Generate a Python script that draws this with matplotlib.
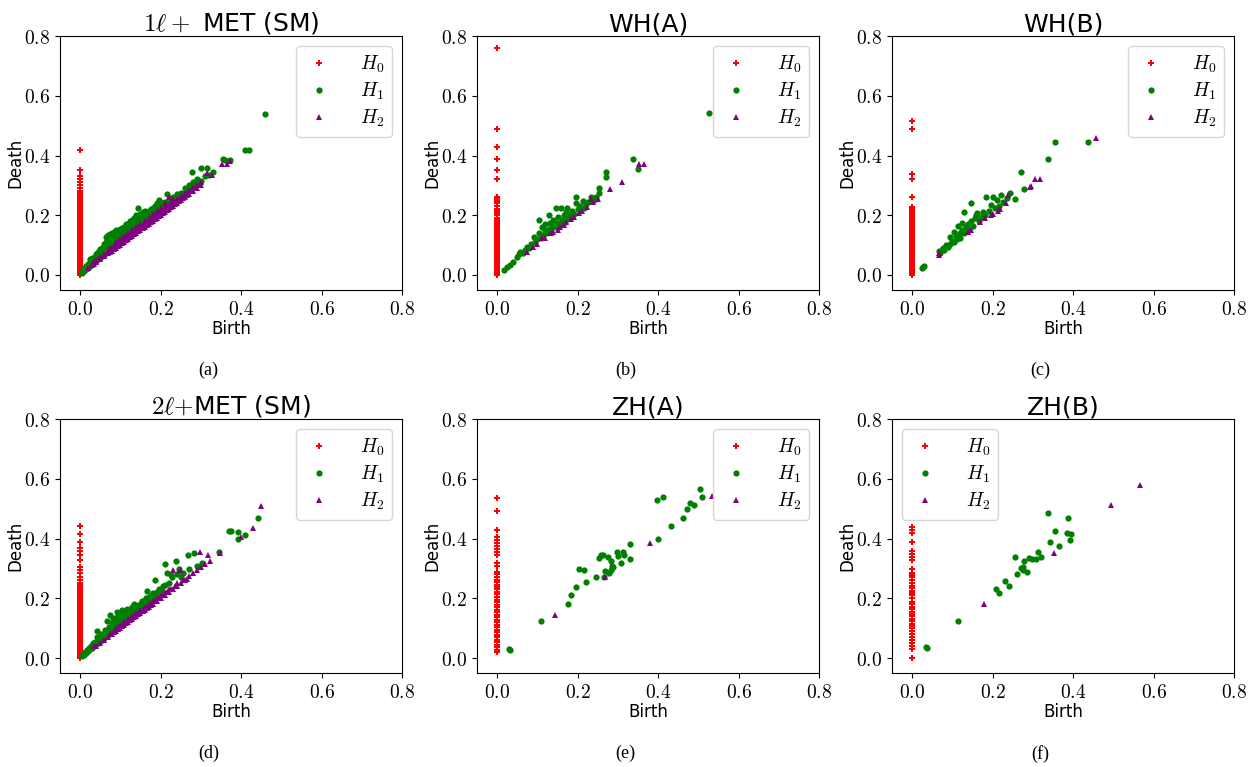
import matplotlib
matplotlib.use("Agg")
import matplotlib.pyplot as plt

plt.rcParams['mathtext.fontset'] = 'cm'
plt.rcParams['font.family'] = ['DejaVu Sans']

titles = [r'$1\ell+$ MET (SM)', 'WH(A)', 'WH(B)', r'$2\ell{+}$MET (SM)', 'ZH(A)', 'ZH(B)']
captions = ['(a)', '(b)', '(c)', '(d)', '(e)', '(f)']
tick_vals = [0.0, 0.2, 0.4, 0.6, 0.8]
tick_labels = [r'$0.0$', r'$0.2$', r'$0.4$', r'$0.6$', r'$0.8$']
legend_locs = ['upper right'] * 5 + ['upper left']

# H0 deaths (all born at 0)
h0_a = [0.0, 0.004, 0.009, 0.014, 0.02, 0.026, 0.031, 0.037, 0.043, 0.05, 0.056, 0.062, 0.068, 0.075,
        0.081, 0.088, 0.094, 0.1, 0.107, 0.113, 0.12, 0.126, 0.133, 0.139, 0.146, 0.152, 0.159, 0.165,
        0.172, 0.178, 0.185, 0.191, 0.198, 0.204, 0.211, 0.217, 0.224, 0.23, 0.237, 0.243, 0.25, 0.257,
        0.263, 0.27, 0.276, 0.282, 0.29, 0.3, 0.31, 0.32, 0.33, 0.35, 0.42]
h0_b = [0.0, 0.005, 0.011, 0.017, 0.023, 0.029, 0.035, 0.041, 0.047, 0.053, 0.059, 0.065, 0.071, 0.077,
        0.083, 0.089, 0.095, 0.101, 0.107, 0.113, 0.119, 0.125, 0.131, 0.137, 0.143, 0.149, 0.155, 0.161,
        0.167, 0.173, 0.179, 0.185, 0.19, 0.2, 0.208, 0.215, 0.222, 0.23, 0.24, 0.248, 0.255, 0.262,
        0.32, 0.35, 0.39, 0.43, 0.49, 0.76]
h0_c = [0.0, 0.005, 0.011, 0.017, 0.023, 0.029, 0.035, 0.041, 0.047, 0.053, 0.059, 0.065, 0.071, 0.077,
        0.083, 0.089, 0.095, 0.101, 0.107, 0.113, 0.119, 0.125, 0.131, 0.137, 0.143, 0.149, 0.155, 0.161,
        0.167, 0.173, 0.179, 0.185, 0.19, 0.196, 0.202, 0.208, 0.214, 0.22, 0.226, 0.262, 0.322, 0.337,
        0.49, 0.516]
h0_d = [0.0, 0.004, 0.009, 0.014, 0.02, 0.026, 0.031, 0.037, 0.043, 0.05, 0.056, 0.062, 0.068, 0.075,
        0.081, 0.088, 0.094, 0.1, 0.107, 0.113, 0.12, 0.126, 0.133, 0.139, 0.146, 0.152, 0.159, 0.165,
        0.172, 0.178, 0.185, 0.191, 0.198, 0.204, 0.211, 0.217, 0.224, 0.23, 0.237, 0.244, 0.25, 0.262,
        0.272, 0.285, 0.295, 0.305, 0.33, 0.345, 0.36, 0.37, 0.39, 0.415, 0.443]
h0_e = [0.02, 0.028, 0.036, 0.045, 0.053, 0.062, 0.07, 0.078, 0.087, 0.095, 0.104, 0.112, 0.12, 0.129,
        0.137, 0.146, 0.154, 0.162, 0.171, 0.179, 0.188, 0.196, 0.204, 0.213, 0.221, 0.23, 0.238, 0.246,
        0.255, 0.263, 0.272, 0.28, 0.288, 0.31, 0.32, 0.345, 0.355, 0.365, 0.375, 0.385, 0.395, 0.405,
        0.43, 0.493, 0.535]
h0_f = [0.0, 0.03, 0.04, 0.05, 0.062, 0.07, 0.08, 0.09, 0.1, 0.108, 0.115, 0.123, 0.131, 0.14, 0.148,
        0.156, 0.165, 0.172, 0.18, 0.188, 0.2, 0.21, 0.218, 0.226, 0.235, 0.243, 0.252, 0.26, 0.27, 0.278,
        0.286, 0.3, 0.33, 0.338, 0.35, 0.36, 0.39, 0.42, 0.43, 0.44]

# H1 (birth, death)
h1_a = [(0.005, 0.008), (0.005, 0.012), (0.01, 0.014), (0.01, 0.022), (0.015, 0.02), (0.015, 0.03),
        (0.02, 0.025), (0.02, 0.038), (0.025, 0.03), (0.025, 0.045), (0.025, 0.052), (0.03, 0.036),
        (0.03, 0.05), (0.03, 0.058), (0.035, 0.042), (0.035, 0.058), (0.04, 0.047), (0.04, 0.062),
        (0.04, 0.07), (0.045, 0.052), (0.045, 0.068), (0.045, 0.078), (0.05, 0.058), (0.05, 0.075),
        (0.05, 0.088), (0.055, 0.063), (0.055, 0.08), (0.055, 0.092), (0.06, 0.068), (0.06, 0.088),
        (0.06, 0.105), (0.065, 0.074), (0.065, 0.095), (0.065, 0.112), (0.065, 0.128), (0.07, 0.08),
        (0.07, 0.1), (0.07, 0.118), (0.07, 0.135), (0.075, 0.085), (0.075, 0.108), (0.075, 0.122),
        (0.075, 0.138), (0.08, 0.09), (0.08, 0.112), (0.08, 0.128), (0.08, 0.14), (0.085, 0.096),
        (0.085, 0.12), (0.085, 0.133), (0.085, 0.145), (0.09, 0.1), (0.09, 0.115), (0.09, 0.125),
        (0.09, 0.138), (0.09, 0.15), (0.095, 0.106), (0.095, 0.13), (0.095, 0.142), (0.095, 0.148),
        (0.1, 0.112), (0.1, 0.125), (0.1, 0.135), (0.1, 0.145), (0.1, 0.155), (0.105, 0.118),
        (0.105, 0.14), (0.105, 0.15), (0.105, 0.158), (0.11, 0.122), (0.11, 0.135), (0.11, 0.145),
        (0.11, 0.162), (0.115, 0.128), (0.115, 0.15), (0.115, 0.16), (0.115, 0.17), (0.12, 0.133),
        (0.12, 0.145), (0.12, 0.155), (0.12, 0.165), (0.12, 0.172), (0.125, 0.138), (0.125, 0.16),
        (0.125, 0.17), (0.125, 0.18), (0.13, 0.143), (0.13, 0.155), (0.13, 0.165), (0.13, 0.185),
        (0.135, 0.148), (0.135, 0.17), (0.135, 0.18), (0.135, 0.19), (0.14, 0.153), (0.14, 0.175),
        (0.14, 0.185), (0.14, 0.2), (0.145, 0.158), (0.145, 0.18), (0.145, 0.19), (0.145, 0.223),
        (0.15, 0.164), (0.15, 0.185), (0.15, 0.195), (0.15, 0.205), (0.155, 0.17), (0.155, 0.19),
        (0.155, 0.2), (0.155, 0.21), (0.16, 0.175), (0.16, 0.195), (0.16, 0.205), (0.16, 0.215),
        (0.165, 0.18), (0.165, 0.2), (0.165, 0.212), (0.17, 0.186), (0.17, 0.205), (0.17, 0.215),
        (0.175, 0.19), (0.175, 0.21), (0.175, 0.22), (0.18, 0.195), (0.18, 0.215), (0.18, 0.225),
        (0.185, 0.2), (0.185, 0.22), (0.185, 0.23), (0.19, 0.205), (0.19, 0.225), (0.19, 0.24),
        (0.195, 0.212), (0.195, 0.232), (0.195, 0.25), (0.2, 0.216), (0.2, 0.232), (0.2, 0.242),
        (0.205, 0.222), (0.205, 0.24), (0.21, 0.226), (0.21, 0.245), (0.215, 0.27), (0.215, 0.235),
        (0.22, 0.236), (0.22, 0.25), (0.225, 0.242), (0.225, 0.258), (0.23, 0.245), (0.23, 0.26),
        (0.235, 0.25), (0.24, 0.255), (0.24, 0.27), (0.245, 0.262), (0.25, 0.265), (0.25, 0.275),
        (0.255, 0.27), (0.26, 0.275), (0.26, 0.29), (0.265, 0.282), (0.27, 0.285), (0.27, 0.3),
        (0.277, 0.345), (0.28, 0.295), (0.28, 0.31), (0.29, 0.305), (0.29, 0.32), (0.3, 0.315),
        (0.3, 0.357), (0.31, 0.33), (0.315, 0.357), (0.32, 0.335), (0.33, 0.345), (0.356, 0.39),
        (0.36, 0.385), (0.373, 0.385), (0.41, 0.42), (0.42, 0.42), (0.46, 0.54)]
h1_b = [(0.017, 0.017), (0.025, 0.028), (0.033, 0.033), (0.04, 0.045), (0.05, 0.06), (0.055, 0.07),
        (0.058, 0.078), (0.065, 0.075), (0.07, 0.085), (0.075, 0.095), (0.08, 0.09), (0.085, 0.105),
        (0.091, 0.128), (0.095, 0.11), (0.1, 0.12), (0.104, 0.184), (0.105, 0.14), (0.11, 0.125),
        (0.112, 0.16), (0.115, 0.135), (0.118, 0.15), (0.12, 0.17), (0.125, 0.14), (0.129, 0.2),
        (0.13, 0.155), (0.132, 0.175), (0.135, 0.148), (0.138, 0.165), (0.14, 0.185), (0.145, 0.223),
        (0.145, 0.16), (0.148, 0.175), (0.15, 0.195), (0.155, 0.17), (0.158, 0.223), (0.16, 0.185),
        (0.165, 0.2), (0.168, 0.178), (0.17, 0.21), (0.174, 0.223), (0.175, 0.19), (0.18, 0.2),
        (0.185, 0.215), (0.19, 0.205), (0.195, 0.26), (0.195, 0.24), (0.2, 0.22), (0.205, 0.23),
        (0.213, 0.247), (0.215, 0.225), (0.22, 0.238), (0.225, 0.245), (0.232, 0.262), (0.24, 0.25),
        (0.245, 0.26), (0.253, 0.292), (0.253, 0.275), (0.27, 0.346), (0.27, 0.329), (0.337, 0.387),
        (0.35, 0.355), (0.527, 0.541)]
h1_c = [(0.025, 0.022), (0.028, 0.026), (0.03, 0.031), (0.066, 0.081), (0.07, 0.075), (0.076, 0.089),
        (0.08, 0.085), (0.085, 0.1), (0.089, 0.095), (0.093, 0.126), (0.095, 0.105), (0.1, 0.115),
        (0.105, 0.145), (0.105, 0.11), (0.11, 0.13), (0.112, 0.12), (0.114, 0.165), (0.118, 0.14),
        (0.12, 0.125), (0.125, 0.15), (0.125, 0.175), (0.13, 0.212), (0.13, 0.14), (0.135, 0.16),
        (0.138, 0.17), (0.14, 0.15), (0.145, 0.18), (0.147, 0.242), (0.15, 0.165), (0.155, 0.19),
        (0.158, 0.2), (0.161, 0.206), (0.165, 0.18), (0.17, 0.195), (0.175, 0.21), (0.18, 0.2),
        (0.184, 0.262), (0.19, 0.215), (0.195, 0.235), (0.2, 0.262), (0.205, 0.225), (0.21, 0.25),
        (0.215, 0.232), (0.221, 0.268), (0.225, 0.245), (0.235, 0.258), (0.244, 0.273), (0.255, 0.254),
        (0.27, 0.346), (0.277, 0.288), (0.338, 0.387), (0.354, 0.446), (0.437, 0.446)]
h1_d = [(0.005, 0.008), (0.008, 0.014), (0.01, 0.012), (0.013, 0.02), (0.015, 0.018), (0.018, 0.028),
        (0.02, 0.024), (0.023, 0.035), (0.025, 0.03), (0.028, 0.042), (0.03, 0.035), (0.033, 0.05),
        (0.035, 0.04), (0.038, 0.055), (0.04, 0.046), (0.041, 0.07), (0.043, 0.09), (0.045, 0.052),
        (0.048, 0.065), (0.05, 0.056), (0.052, 0.08), (0.055, 0.062), (0.058, 0.075), (0.06, 0.068),
        (0.062, 0.095), (0.065, 0.073), (0.066, 0.125), (0.068, 0.085), (0.07, 0.078), (0.072, 0.105),
        (0.075, 0.084), (0.075, 0.145), (0.078, 0.095), (0.078, 0.118), (0.08, 0.088), (0.082, 0.115),
        (0.082, 0.13), (0.085, 0.094), (0.085, 0.135), (0.088, 0.105), (0.088, 0.122), (0.09, 0.1),
        (0.091, 0.155), (0.093, 0.125), (0.093, 0.14), (0.095, 0.105), (0.098, 0.14), (0.098, 0.118),
        (0.1, 0.11), (0.1, 0.125), (0.1, 0.15), (0.103, 0.16), (0.105, 0.116), (0.108, 0.135),
        (0.108, 0.148), (0.11, 0.122), (0.112, 0.15), (0.112, 0.138), (0.115, 0.128), (0.116, 0.165),
        (0.118, 0.142), (0.12, 0.133), (0.12, 0.158), (0.123, 0.155), (0.125, 0.138), (0.125, 0.148),
        (0.128, 0.165), (0.13, 0.143), (0.13, 0.172), (0.133, 0.18), (0.135, 0.15), (0.138, 0.165),
        (0.14, 0.155), (0.14, 0.175), (0.143, 0.175), (0.145, 0.16), (0.148, 0.18), (0.15, 0.165),
        (0.15, 0.175), (0.153, 0.19), (0.155, 0.17), (0.158, 0.185), (0.16, 0.176), (0.16, 0.195),
        (0.163, 0.2), (0.165, 0.182), (0.166, 0.225), (0.168, 0.195), (0.17, 0.19), (0.172, 0.205),
        (0.175, 0.193), (0.178, 0.21), (0.18, 0.2), (0.182, 0.218), (0.186, 0.262), (0.188, 0.21),
        (0.19, 0.22), (0.195, 0.23), (0.2, 0.228), (0.205, 0.24), (0.211, 0.316), (0.212, 0.245),
        (0.215, 0.285), (0.22, 0.25), (0.225, 0.278), (0.228, 0.27), (0.238, 0.324), (0.24, 0.28),
        (0.245, 0.3), (0.25, 0.27), (0.255, 0.285), (0.267, 0.346), (0.27, 0.3), (0.283, 0.352),
        (0.29, 0.31), (0.302, 0.318), (0.344, 0.354), (0.371, 0.427), (0.375, 0.424), (0.393, 0.421),
        (0.393, 0.398), (0.409, 0.413), (0.443, 0.469)]
h1_e = [(0.029, 0.03), (0.031, 0.028), (0.108, 0.125), (0.177, 0.182), (0.184, 0.212), (0.196, 0.238),
        (0.204, 0.3), (0.217, 0.295), (0.221, 0.256), (0.245, 0.273), (0.253, 0.335), (0.257, 0.344),
        (0.262, 0.346), (0.266, 0.273), (0.268, 0.292), (0.276, 0.338), (0.279, 0.285), (0.282, 0.324),
        (0.284, 0.296), (0.286, 0.307), (0.289, 0.305), (0.297, 0.354), (0.3, 0.343), (0.308, 0.32),
        (0.313, 0.355), (0.314, 0.346), (0.329, 0.382), (0.331, 0.333), (0.397, 0.528), (0.4, 0.4),
        (0.412, 0.54), (0.432, 0.443), (0.461, 0.469), (0.471, 0.499), (0.48, 0.518), (0.488, 0.514),
        (0.503, 0.566), (0.508, 0.538)]
h1_f = [(0.035, 0.036), (0.037, 0.034), (0.115, 0.123), (0.209, 0.231), (0.216, 0.217), (0.231, 0.259),
        (0.24, 0.243), (0.256, 0.339), (0.26, 0.281), (0.271, 0.301), (0.275, 0.296), (0.275, 0.304),
        (0.278, 0.326), (0.285, 0.288), (0.29, 0.334), (0.298, 0.331), (0.307, 0.331), (0.313, 0.355),
        (0.321, 0.34), (0.337, 0.485), (0.342, 0.388), (0.354, 0.426), (0.366, 0.374), (0.386, 0.42),
        (0.387, 0.468), (0.391, 0.396), (0.395, 0.414)]

# H2 (birth, death)
h2_a = [(0.02, 0.022), (0.03, 0.032), (0.033, 0.04), (0.035, 0.037), (0.04, 0.042), (0.04, 0.05),
        (0.05, 0.052), (0.05, 0.06), (0.06, 0.062), (0.06, 0.07), (0.07, 0.072), (0.07, 0.08),
        (0.075, 0.077), (0.075, 0.09), (0.08, 0.082), (0.08, 0.092), (0.085, 0.087), (0.085, 0.098),
        (0.09, 0.092), (0.09, 0.102), (0.09, 0.11), (0.095, 0.097), (0.095, 0.108), (0.1, 0.102),
        (0.1, 0.112), (0.1, 0.12), (0.105, 0.107), (0.105, 0.118), (0.11, 0.112), (0.11, 0.122),
        (0.11, 0.13), (0.115, 0.117), (0.115, 0.127), (0.12, 0.122), (0.12, 0.132), (0.12, 0.14),
        (0.125, 0.127), (0.125, 0.137), (0.13, 0.132), (0.13, 0.142), (0.13, 0.15), (0.135, 0.137),
        (0.135, 0.147), (0.14, 0.142), (0.14, 0.152), (0.14, 0.16), (0.145, 0.147), (0.145, 0.157),
        (0.15, 0.152), (0.15, 0.162), (0.15, 0.172), (0.155, 0.157), (0.155, 0.167), (0.16, 0.162),
        (0.16, 0.172), (0.16, 0.182), (0.165, 0.167), (0.165, 0.177), (0.17, 0.172), (0.17, 0.182),
        (0.17, 0.192), (0.175, 0.177), (0.175, 0.188), (0.18, 0.182), (0.18, 0.192), (0.18, 0.205),
        (0.185, 0.187), (0.185, 0.198), (0.19, 0.192), (0.19, 0.202), (0.19, 0.215), (0.195, 0.197),
        (0.195, 0.208), (0.2, 0.202), (0.2, 0.212), (0.2, 0.225), (0.205, 0.207), (0.205, 0.218),
        (0.21, 0.212), (0.21, 0.225), (0.21, 0.24), (0.215, 0.217), (0.215, 0.23), (0.22, 0.222),
        (0.22, 0.235), (0.22, 0.26), (0.225, 0.227), (0.225, 0.24), (0.23, 0.232), (0.23, 0.245),
        (0.23, 0.255), (0.235, 0.237), (0.24, 0.242), (0.24, 0.255), (0.245, 0.247), (0.25, 0.252),
        (0.25, 0.265), (0.255, 0.258), (0.26, 0.262), (0.26, 0.275), (0.265, 0.268), (0.27, 0.272),
        (0.27, 0.285), (0.28, 0.282), (0.28, 0.295), (0.29, 0.292), (0.29, 0.3), (0.3, 0.302),
        (0.3, 0.31), (0.315, 0.34), (0.327, 0.334), (0.352, 0.373), (0.365, 0.372), (0.373, 0.38)]
h2_b = [(0.075, 0.078), (0.09, 0.095), (0.1, 0.105), (0.112, 0.123), (0.12, 0.125), (0.133, 0.139),
        (0.14, 0.145), (0.15, 0.15), (0.155, 0.16), (0.166, 0.168), (0.172, 0.178), (0.183, 0.186),
        (0.19, 0.195), (0.203, 0.206), (0.21, 0.215), (0.224, 0.229), (0.232, 0.253), (0.238, 0.245),
        (0.25, 0.255), (0.28, 0.288), (0.31, 0.311), (0.353, 0.37), (0.364, 0.37)]
h2_c = [(0.066, 0.067), (0.066, 0.072), (0.139, 0.145), (0.147, 0.15), (0.168, 0.178), (0.18, 0.19),
        (0.196, 0.2), (0.2, 0.205), (0.213, 0.215), (0.218, 0.22), (0.234, 0.24), (0.238, 0.268),
        (0.294, 0.295), (0.296, 0.298), (0.304, 0.32), (0.318, 0.32), (0.456, 0.457)]
h2_d = [(0.035, 0.04), (0.04, 0.042), (0.05, 0.052), (0.06, 0.062), (0.07, 0.072), (0.075, 0.08),
        (0.08, 0.082), (0.085, 0.088), (0.09, 0.092), (0.09, 0.1), (0.095, 0.098), (0.1, 0.102),
        (0.1, 0.11), (0.105, 0.108), (0.11, 0.112), (0.11, 0.12), (0.115, 0.118), (0.12, 0.122),
        (0.12, 0.13), (0.125, 0.128), (0.13, 0.132), (0.13, 0.14), (0.135, 0.138), (0.14, 0.142),
        (0.14, 0.15), (0.145, 0.148), (0.15, 0.152), (0.15, 0.16), (0.155, 0.158), (0.16, 0.162),
        (0.16, 0.17), (0.165, 0.168), (0.17, 0.172), (0.17, 0.18), (0.175, 0.178), (0.18, 0.182),
        (0.18, 0.19), (0.185, 0.19), (0.19, 0.192), (0.19, 0.2), (0.195, 0.2), (0.2, 0.202),
        (0.2, 0.21), (0.205, 0.21), (0.21, 0.212), (0.21, 0.22), (0.215, 0.22), (0.22, 0.222),
        (0.22, 0.232), (0.225, 0.23), (0.23, 0.232), (0.232, 0.296), (0.235, 0.24), (0.24, 0.242),
        (0.24, 0.25), (0.248, 0.296), (0.25, 0.252), (0.255, 0.26), (0.26, 0.262), (0.265, 0.265),
        (0.27, 0.275), (0.28, 0.285), (0.29, 0.295), (0.298, 0.354), (0.3, 0.305), (0.31, 0.315),
        (0.318, 0.344), (0.322, 0.324), (0.348, 0.352), (0.401, 0.407), (0.43, 0.435), (0.45, 0.508)]
h2_e = [(0.143, 0.145), (0.267, 0.271), (0.38, 0.386), (0.533, 0.543)]
h2_f = [(0.178, 0.18), (0.353, 0.353), (0.493, 0.511), (0.567, 0.579)]

h0_sets = [h0_a, h0_b, h0_c, h0_d, h0_e, h0_f]
h1_sets = [h1_a, h1_b, h1_c, h1_d, h1_e, h1_f]
h2_sets = [h2_a, h2_b, h2_c, h2_d, h2_e, h2_f]

fig = plt.figure(figsize=(12.58, 7.67), dpi=100)

lefts = [0.0477, 0.3792, 0.7091]
bottoms = [0.622, 0.1225]
w, h = 0.2719, 0.331

for i in range(6):
    r, c = divmod(i, 3)
    ax = fig.add_axes([lefts[c], bottoms[r], w, h])
    ax.plot([0.0] * len(h0_sets[i]), h0_sets[i], 'P', color='red', ms=3.8, mew=0, label=r'$H_0$')
    b1, d1 = zip(*h1_sets[i])
    ax.plot(b1, d1, 'o', color='green', ms=4.5, mew=0, label=r'$H_1$')
    b2, d2 = zip(*h2_sets[i])
    ax.plot(b2, d2, '^', color='purple', ms=4.5, mew=0, label=r'$H_2$')

    ax.set_xlim(-0.05, 0.8)
    ax.set_ylim(-0.05, 0.8)
    ax.set_xticks(tick_vals)
    ax.set_yticks(tick_vals)
    ax.set_xticklabels(tick_labels, fontsize=14)
    ax.set_yticklabels(tick_labels, fontsize=14)
    ax.set_xlabel('Birth', fontsize=12, labelpad=1)
    ax.set_ylabel('Death', fontsize=12, labelpad=0)
    ax.set_title(titles[i], fontsize=18, pad=2)
    ax.legend(loc=legend_locs[i], fontsize=14, handlelength=1.6, handletextpad=1.3,
              labelspacing=0.3)

    x_cap = lefts[c] + w / 2 - 0.018
    fig.text(x_cap, bottoms[r] - 0.105, captions[i], ha='center', va='center',
             fontsize=13, family='Liberation Serif')

fig.savefig('out.png', dpi=100)
